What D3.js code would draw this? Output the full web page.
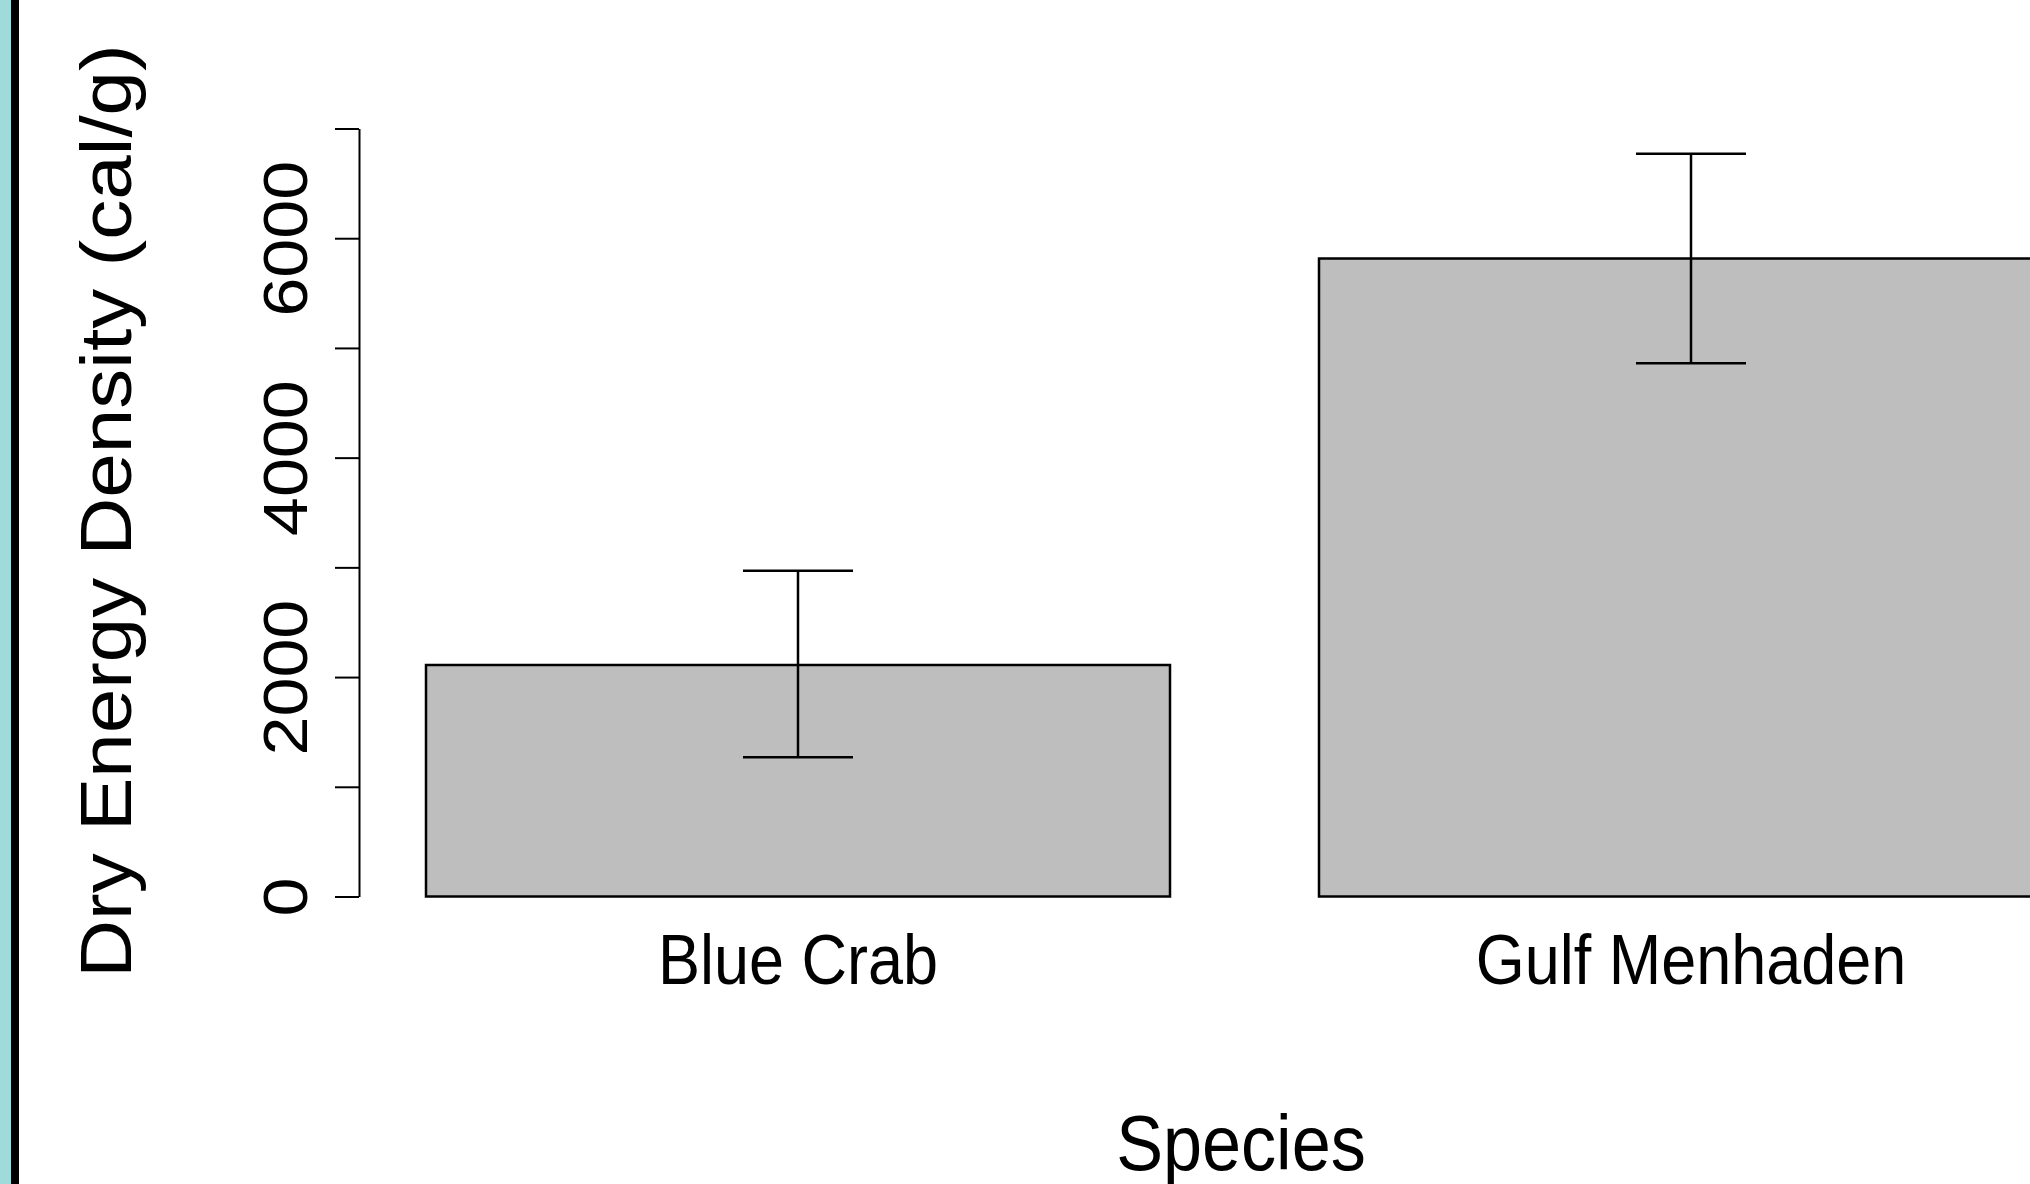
<!DOCTYPE html>
<html>
<head>
<meta charset="utf-8">
<script src="https://cdn.jsdelivr.net/npm/d3@7"></script>
<style>
  html, body { margin: 0; padding: 0; background: #fff; overflow: hidden; }
  svg { display: block; font-family: "Liberation Sans", Arial, sans-serif; }
</style>
</head>
<body>
<div id="chart"></div>
<script>
const species = ['Blue Crab', 'Gulf Menhaden'];
const meanEnergy = [2110, 5815];
const errLow = [1270, 4860];
const errHigh = [2970, 6770];
const yTicks = [0, 1000, 2000, 3000, 4000, 5000, 6000, 7000];
const yLabelTicks = [0, 2000, 4000, 6000];

function renderChart() {
  const width = 2030, height = 1184;
  const sx = 0.9; // picture is squeezed horizontally

  const svg = d3.select('#chart').append('svg').attr('width', width).attr('height', height);
  svg.append('rect').attr('width', width).attr('height', height).attr('fill', '#fff');

  // left frame strip
  svg.append('rect').attr('x', 0).attr('y', 0).attr('width', 11).attr('height', height).attr('fill', '#a0dbdb');
  svg.append('rect').attr('x', 11).attr('y', 0).attr('width', 8).attr('height', height).attr('fill', '#000');

  const x = d3.scaleBand().domain(species).range([351.5, 2137.5]).paddingInner(149/893).paddingOuter(149/893/2);
  const y = d3.scaleLinear().domain([0, 7000]).range([896.5, 128.5]);

  const data = species.map((s, i) => ({name: s, mean: meanEnergy[i], lo: errLow[i], hi: errHigh[i]}));

  svg.append('g').selectAll('rect').data(data).join('rect')
    .attr('x', d => x(d.name))
    .attr('y', d => y(d.mean))
    .attr('width', x.bandwidth())
    .attr('height', d => y(0) - y(d.mean))
    .attr('fill', '#bebebe')
    .attr('stroke', '#000')
    .attr('stroke-width', 2.5);

  // error bars
  const eb = svg.append('g').attr('stroke', '#000').attr('stroke-width', 2.5);
  data.forEach(d => {
    const cx = x(d.name) + x.bandwidth() / 2;
    eb.append('line').attr('x1', cx).attr('x2', cx).attr('y1', y(d.hi)).attr('y2', y(d.lo));
    eb.append('line').attr('x1', cx - 55).attr('x2', cx + 55).attr('y1', y(d.hi)).attr('y2', y(d.hi));
    eb.append('line').attr('x1', cx - 55).attr('x2', cx + 55).attr('y1', y(d.lo)).attr('y2', y(d.lo));
  });

  // y axis
  const yAxis = d3.axisLeft(y).tickValues(yTicks).tickSize(24).tickSizeOuter(0)
    .tickFormat(d => yLabelTicks.includes(d) ? String(d) : '');
  const ya = svg.append('g').attr('transform', 'translate(359,0)').call(yAxis);
  ya.select('.domain').attr('stroke', '#000').attr('stroke-width', 2);
  ya.selectAll('.tick line').attr('stroke', '#000').attr('stroke-width', 2);
  ya.selectAll('.tick text')
    .attr('x', null).attr('dy', null)
    .attr('transform', `translate(-52,0) scale(${sx},1) rotate(-90)`)
    .attr('text-anchor', 'middle')
    .attr('fill', '#000')
    .style('font-size', '70px')
    .style('font-family', '"Liberation Sans", Arial, sans-serif');

  // x axis (names only)
  const xa = svg.append('g').attr('transform', `translate(0,${y(0)})`).call(d3.axisBottom(x).tickSize(0));
  xa.select('.domain').remove();
  xa.selectAll('.tick text')
    .attr('y', 88).attr('dy', null)
    .attr('transform', `scale(${sx},1)`)
    .attr('fill', '#000')
    .style('font-size', '70px')
    .style('font-family', '"Liberation Sans", Arial, sans-serif');

  // axis titles
  svg.append('text')
    .attr('transform', `translate(1241,1170) scale(${sx},1)`)
    .attr('text-anchor', 'middle')
    .style('font-size', '78px')
    .text('Species');

  svg.append('text')
    .attr('transform', `translate(131,511) scale(${sx},1) rotate(-90)`)
    .attr('text-anchor', 'middle')
    .style('font-size', '80px')
    .text('Dry Energy Density (cal/g)');
}

renderChart();
</script>
</body>
</html>
